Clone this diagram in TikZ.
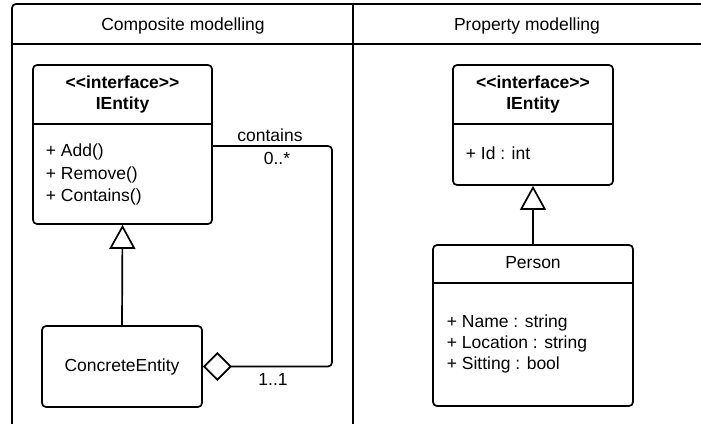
\documentclass[tikz,border=0pt]{standalone}
\usepackage{fontspec}
\setmainfont{Liberation Sans}
\usetikzlibrary{arrows.meta}
\newcommand{\stereo}[1]{<\kern0pt<#1>\kern0pt>}
\begin{document}
\begin{tikzpicture}[x=1pt,y=-1pt,line width=1.7pt,
  every node/.style={font=\fontsize{17.5}{21}\selectfont},
  classbox/.style={draw,rounded corners=4pt,inner sep=0pt,fill=white},
  txt/.style={inner sep=0pt,anchor=base},
  btxt/.style={txt,font=\fontsize{17.5}{21}\selectfont\bfseries},
  attr/.style={inner sep=0pt,anchor=base west},
  inherit/.style={-{Triangle[open,length=24pt,width=26pt]}},
  aggregate/.style={{Diamond[open,length=29pt,width=29pt]}-,rounded corners=4pt}]
\useasboundingbox (0,0) rectangle (701,423);
\clip (0,0) rectangle (701,423);

% swimlane frame with two columns
\draw[rounded corners=4pt] (12,440) -- (12,4) -- (720,4);
\draw (12,44) -- (720,44);
\draw (353,4) -- (353,440);
\node[txt] (lane1) at (183,30) {Composite modelling};
\node[txt] (lane2) at (527,30) {Property modelling};

% composite modelling
\node[classbox,minimum width=179pt,minimum height=159pt] (ie1) at (122.5,144.5) {};
\draw (ie1.west |- 0,124) -- (ie1.east |- 0,124);
\node[btxt] (ie1s) at (122.5,88) {\stereo{interface}};
\node[btxt] (ie1n) at (122.5,109) {IEntity};
\node[attr] (ie1a) at (45,156) {+ Add()};
\node[attr] (ie1b) at (45,179) {+ Remove()};
\node[attr] (ie1c) at (45,201) {+ Contains()};

\node[classbox,minimum width=160pt,minimum height=81pt] (conc) at (122,366.5) {ConcreteEntity};
\draw[inherit] (conc.north) -- (ie1.south);

\coordinate (c1) at (332,146);
\coordinate (c2) at (332,366.5);
\draw[aggregate] (conc.east) -- (c2) -- (c1) -- (ie1.east |- c1);
\node[txt] (lcont) at (270,141) {contains};
\node[txt] (lmany) at (277,164) {0..*};
\node[txt] (lone) at (273,385) {1..1};

% property modelling
\node[classbox,minimum width=160pt,minimum height=120pt] (ie2) at (533,125) {};
\draw (ie2.west |- 0,124) -- (ie2.east |- 0,124);
\node[btxt] (ie2s) at (533,88) {\stereo{interface}};
\node[btxt] (ie2n) at (533,109) {IEntity};
\node[attr] (ie2a) at (465,159) {+ Id : int};

\node[classbox,minimum width=200pt,minimum height=161pt] (pers) at (533,325.5) {};
\draw (pers.west |- 0,283) -- (pers.east |- 0,283);
\node[txt] (persn) at (533,268) {Person};
\node[attr] (pa) at (446,327) {+ Name : string};
\node[attr] (pb) at (446,348) {+ Location : string};
\node[attr] (pc) at (446,369) {+ Sitting : bool};
\draw[inherit] (pers.north) -- (ie2.south);
\end{tikzpicture}
\end{document}
